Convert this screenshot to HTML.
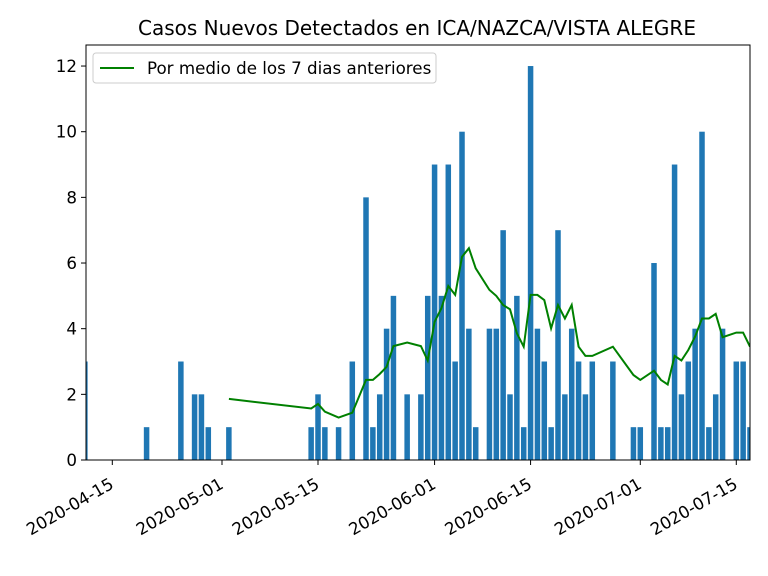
<!DOCTYPE html>
<html><head><meta charset="utf-8"><style>
body{margin:0;background:#fff;}
svg{display:block;font-family:"DejaVu Sans","Liberation Sans",sans-serif;}
</style></head><body>
<svg id="chart" width="768" height="576" xmlns="http://www.w3.org/2000/svg">
<rect width="768" height="576" fill="#fff"/>
<text x="417" y="35" font-size="20" text-anchor="middle">Casos Nuevos Detectados en ICA/NAZCA/VISTA ALEGRE</text>
<g id="plot"></g>
</svg>
<script>
// day offsets from 2020-04-15
const barDays = [-4,5,10,12,13,14,17,29,30,31,33,35,37,38,39,40,41,43,45,46,47,48,49,50,51,52,53,55,56,57,58,59,60,61,62,63,64,65,66,67,68,69,70,73,76,77,79,80,81,82,83,84,85,86,87,88,89,91,92,93];
const barVals = [3,1,3,2,2,1,1,1,2,1,1,3,8,1,2,4,5,2,2,5,9,5,9,3,10,4,1,4,4,7,2,5,1,12,4,3,1,7,2,4,3,2,3,3,1,1,6,1,1,9,2,3,4,10,1,2,4,3,3,1];
const avgDays = [17,29,30,31,33,35,37,38,39,40,41,43,45,46,47,48,49,50,51,52,53,55,56,57,58,59,60,61,62,63,64,65,66,67,68,69,70,73,76,77,79,80,81,82,83,84,85,86,87,88,89,91,92,93];
const avgVals = [1.86,1.57,1.71,1.47,1.29,1.44,2.44,2.44,2.62,2.84,3.47,3.58,3.47,3.03,4.21,4.62,5.30,5.03,6.19,6.45,5.84,5.18,5.0,4.72,4.59,3.86,3.45,5.03,5.03,4.87,4.01,4.72,4.31,4.72,3.45,3.17,3.17,3.45,2.59,2.44,2.72,2.44,2.30,3.17,3.03,3.35,3.76,4.31,4.31,4.45,3.74,3.88,3.88,3.45];
const yTicks = [0,2,4,6,8,10,12];
const xTickDays = [0,16,30,47,61,77,91];
const xTickLabels = ["2020-04-15","2020-05-01","2020-05-15","2020-06-01","2020-06-15","2020-07-01","2020-07-15"];

const L=86,R=750,T=45,B=460;
const xs=d=>112.3+d*6.857;
const ys=v=>B-v*32.83;
const NS="http://www.w3.org/2000/svg";
const g=document.getElementById('plot');
function mk(t,a){const e=document.createElementNS(NS,t);for(const k in a)e.setAttribute(k,a[k]);return e;}
const defs=mk('defs',{});const cp=mk('clipPath',{id:'clip'});cp.appendChild(mk('rect',{x:L,y:T,width:R-L,height:B-T}));defs.appendChild(cp);g.appendChild(defs);
const bars=mk('g',{'clip-path':'url(#clip)'});g.appendChild(bars);
barDays.forEach((d,i)=>{
  const r=mk('rect',{x:xs(d)-2.75,y:ys(barVals[i]),width:5.5,height:B-ys(barVals[i]),fill:'#1f77b4'});
  
  
  bars.appendChild(r);
});
const pts=avgDays.map((d,i)=>xs(d).toFixed(1)+','+ys(avgVals[i]).toFixed(1)).join(' ');
const line=mk('polyline',{points:pts,fill:'none',stroke:'#008000','stroke-width':2,'clip-path':'url(#clip)'});


g.appendChild(line);
const frame=mk('rect',{x:L,y:T,width:R-L,height:B-T,fill:'none',stroke:'#000','stroke-width':1});


g.appendChild(frame);
yTicks.forEach(v=>{
  const y=ys(v);
  g.appendChild(mk('line',{x1:L-5,x2:L,y1:y,y2:y,stroke:'#000'}));
  const t=mk('text',{x:L-9,y:y+6,'font-size':16.7,'text-anchor':'end'});t.textContent=v;
  
  
  g.appendChild(t);
});
xTickDays.forEach((d,i)=>{
  const x=xs(d);
  g.appendChild(mk('line',{x1:x,x2:x,y1:B,y2:B+5,stroke:'#000'}));
  const t=mk('text',{x:0,y:13,'font-size':16.7,'text-anchor':'end',transform:`translate(${x-4} 476) rotate(-30)`});
  t.textContent=xTickLabels[i];
  
  
  g.appendChild(t);
});
const lg=mk('g',{});


lg.appendChild(mk('rect',{x:93,y:53,width:343,height:30,rx:3,fill:'#fff',stroke:'#ccc'}));
lg.appendChild(mk('line',{x1:100,x2:134,y1:68,y2:68,stroke:'#008000','stroke-width':2}));
const lt=mk('text',{x:147,y:74,'font-size':16.7});lt.textContent='Por medio de los 7 dias anteriores';
lg.appendChild(lt);
g.appendChild(lg);
</script>
</body></html>
